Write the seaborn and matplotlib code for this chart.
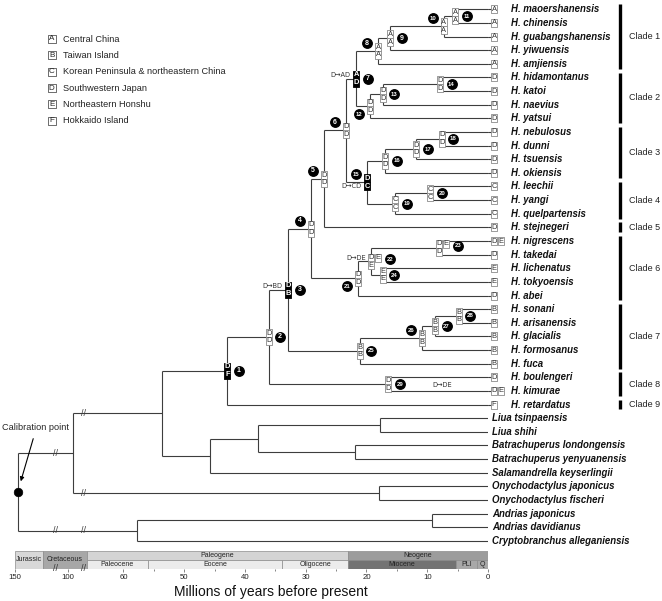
import matplotlib
matplotlib.use("Agg")
import matplotlib.pyplot as plt
import numpy as np
import seaborn as sns
from matplotlib.collections import LineCollection
from matplotlib.path import Path
from matplotlib.transforms import Affine2D, ScaledTranslation

# ---------------- data ----------------
leaf_names = [
    "H. maoershanensis", "H. chinensis", "H. guabangshanensis", "H. yiwuensis", "H. amjiensis",
    "H. hidamontanus", "H. katoi", "H. naevius", "H. yatsui",
    "H. nebulosus", "H. dunni", "H. tsuensis", "H. okiensis",
    "H. leechii", "H. yangi", "H. quelpartensis",
    "H. stejnegeri",
    "H. nigrescens", "H. takedai", "H. lichenatus", "H. tokyoensis", "H. abei",
    "H. sonani", "H. arisanensis", "H. glacialis", "H. formosanus", "H. fuca",
    "H. boulengeri", "H. kimurae",
    "H. retardatus",
    "Liua tsinpaensis", "Liua shihi",
    "Batrachuperus londongensis", "Batrachuperus yenyuanensis",
    "Salamandrella keyserlingii",
    "Onychodactylus japonicus", "Onychodactylus fischeri",
    "Andrias japonicus", "Andrias davidianus",
    "Cryptobranchus alleganiensis",
]
leaf_areas = [
    "A", "A", "A", "A", "A",
    "D", "D", "D", "D",
    "D", "D", "D", "D",
    "C", "C", "C",
    "D",
    "DE", "D", "E", "E", "D",
    "B", "B", "B", "B", "B",
    "D", "DE",
    "F",
    "", "", "", "", "", "", "", "", "", "",
]

# internal nodes, children listed before parents (ages in Mya)
node_ids = ["11", "10", "9", "8", "14", "13", "12", "7",
            "18", "17", "16", "20", "19", "15", "6", "5",
            "23", "24", "22", "21", "4",
            "28", "27", "26", "25", "3", "29", "2", "1",
            "liua", "batr", "lb", "sal", "hyn", "ony", "x", "andr", "ac", "root"]
node_ages = [5.4, 7.3, 16.1, 18.1, 7.9, 17.3, 19.4, 21.7,
             7.6, 11.8, 16.9, 9.5, 15.3, 19.9, 23.4, 27.0,
             8.1, 17.3, 19.2, 21.4, 29.1,
             4.8, 8.7, 10.9, 21.1, 32.9, 16.4, 36.1, 42.9,
             17.8, 21.9, 37.8, 45.7, 53.6, 17.9, 91.0, 9.2, 57.7, 149.5]
node_child_a = ["H. maoershanensis", "11", "10", "9", "H. hidamontanus", "14", "13", "8",
                "H. nebulosus", "18", "17", "H. leechii", "20", "16", "7", "6",
                "H. nigrescens", "H. lichenatus", "23", "22", "5",
                "H. sonani", "28", "27", "26", "4", "H. boulengeri", "3", "2",
                "Liua tsinpaensis", "Batrachuperus londongensis", "liua", "lb", "1",
                "Onychodactylus japonicus", "hyn", "Andrias japonicus", "andr", "x"]
node_child_b = ["H. chinensis", "H. guabangshanensis", "H. yiwuensis", "H. amjiensis", "H. katoi",
                "H. naevius", "H. yatsui", "12",
                "H. dunni", "H. tsuensis", "H. okiensis", "H. yangi", "H. quelpartensis", "19", "15",
                "H. stejnegeri",
                "H. takedai", "H. tokyoensis", "24", "H. abei", "21",
                "H. arisanensis", "H. glacialis", "H. formosanus", "H. fuca", "25", "H. kimurae", "29",
                "H. retardatus",
                "Liua shihi", "Batrachuperus yenyuanensis", "batr", "Salamandrella keyserlingii",
                "sal", "Onychodactylus fischeri", "ony", "Andrias davidianus",
                "Cryptobranchus alleganiensis", "ac"]

# ancestral areas at numbered nodes 1..29 (upper / lower box)
numbered = list(range(1, 30))
area_upper = ["D", "D", "D", "D", "D", "D", "A", "A", "A", "A", "A", "D", "D", "D", "D",
              "D", "D", "D", "C", "C", "D", "DE", "DE", "E", "B", "B", "B", "B", "D"]
area_lower = ["F", "D", "B", "D", "D", "D", "D", "A", "A", "A", "A", "D", "D", "D", "C",
              "D", "D", "D", "C", "C", "D", "E", "D", "E", "B", "B", "B", "B", "D"]
black_nodes = [1, 3, 7, 15]
label_left_up = [4, 5, 6, 8, 10, 15, 26]
label_left_down = [12, 21]
label_far_right = [22, 23]

event_nodes = ["3", "7", "15", "22"]
event_text = ["D\u2192BD", "D\u2192AD", "D\u2192CD", "D\u2192DE"]
event_box = ["upper", "upper", "lower", "upper"]

clade_labels = ["Clade 1", "Clade 2", "Clade 3", "Clade 4", "Clade 5",
                "Clade 6", "Clade 7", "Clade 8", "Clade 9"]
clade_first = ["H. maoershanensis", "H. hidamontanus", "H. nebulosus", "H. leechii",
               "H. stejnegeri", "H. nigrescens", "H. sonani", "H. boulengeri", "H. retardatus"]
clade_last = ["H. amjiensis", "H. yatsui", "H. okiensis", "H. quelpartensis",
              "H. stejnegeri", "H. abei", "H. fuca", "H. kimurae", "H. retardatus"]

area_codes = ["A", "B", "C", "D", "E", "F"]
area_names = ["Central China", "Taiwan Island", "Korean Peninsula & northeastern China",
              "Southwestern Japan", "Northeastern Honshu", "Hokkaido Island"]

full_units = ["Jurassic", "Cretaceous"]
full_start = [150, 145]
full_end = [145, 66]
full_color = ["#d8d8d8", "#a7a7a7"]
period_units = ["Paleogene", "Neogene"]
period_start = [66, 23]
period_end = [23, 0]
period_color = ["#d4d4d4", "#9c9c9c"]
epoch_units = ["Paleocene", "Eocene", "Oligocene", "Miocene", "PLI", "Q"]
epoch_start = [66, 56, 33.9, 23, 5.3, 1.8]
epoch_end = [56, 33.9, 23, 5.3, 1.8, 0]
epoch_color = ["#ececec", "#ececec", "#ececec", "#737373", "#a8a8a8", "#a8a8a8"]

major_ticks = [150, 100, 60, 50, 40, 30, 20, 10, 0]
minor_ticks = [55, 45, 35, 25, 15, 5]

# broken time axis: age -> pixel distance from present
AGE_KNOTS = [0, 66, 100, 145, 150]
DIST_KNOTS = [0, 401, 420, 445, 473]


def fwd(a):
    return np.interp(a, AGE_KNOTS, DIST_KNOTS)


def inv(d):
    return np.interp(d, DIST_KNOTS, AGE_KNOTS)


# ---------------- figure ----------------
DPI = 100
W, H = 662, 601
sns.set_theme(style="white")
plt.rcParams["font.family"] = ["Liberation Sans", "DejaVu Sans"]
LINE = "#3d3d3d"

fig = plt.figure(figsize=(W / DPI, H / DPI), dpi=DPI)
LEAF_PX, FIRST_PX, AX_BOTTOM = 13.63, 9.3, 549
ax = fig.add_axes([15 / W, (H - AX_BOTTOM) / H, 473 / W, AX_BOTTOM / H])
ax.set_autoscale_on(False)
ax.set_xscale("function", functions=(fwd, inv))
ax.set_xlim(150, 0)
ax.set_ylim((AX_BOTTOM - FIRST_PX) / LEAF_PX, -FIRST_PX / LEAF_PX)
ax.axis("off")

fig_px = Affine2D().scale(1 / W, -1 / H).translate(0, 1) + fig.transFigure


def off(dx, dy):
    return ax.transData + ScaledTranslation(dx / DPI, -dy / DPI, fig.dpi_scale_trans)


def local(age, y):
    return Affine2D().scale(1 / DPI, -1 / DPI) + fig.dpi_scale_trans + ScaledTranslation(age, y, ax.transData)


BOX = Path([(-0.43, -0.5), (0.43, -0.5), (0.43, 0.5), (-0.43, 0.5), (-0.43, -0.5)], closed=True)


def area_box(age, y, letters, dx, dy, black=False, fs=5.4):
    for k, ch in enumerate(letters):
        t = off(dx + 7 * k, dy)
        ax.plot([age], [y], marker=BOX, ms=5.6, mfc="black" if black else "white",
                mec="black" if black else "#8a8a8a", mew=0.6, transform=t,
                clip_on=False, zorder=4)
        ax.text(age, y, ch, transform=t, ha="center", va="center", fontsize=fs,
                color="white" if black else "#333333",
                fontweight="bold" if black else "normal", zorder=5, clip_on=False)


# node coordinates: y is the mean of its two children
y_of = {n: float(i) for i, n in enumerate(leaf_names)}
age_of = {n: 0.0 for n in leaf_names}
for nid, age, ca, cb in zip(node_ids, node_ages, node_child_a, node_child_b):
    y_of[nid] = (y_of[ca] + y_of[cb]) / 2
    age_of[nid] = age

segs = []
for nid, ca, cb in zip(node_ids, node_child_a, node_child_b):
    a = age_of[nid]
    segs.append([(a, y_of[ca]), (a, y_of[cb])])
    for c in (ca, cb):
        segs.append([(a, y_of[c]), (age_of[c], y_of[c])])
ax.add_collection(LineCollection(segs, colors=LINE, linewidths=0.8, zorder=2))

# tips
for name, area in zip(leaf_names, leaf_areas):
    y = y_of[name]
    if area:
        ax.plot([0, 3], [0, 0], color=LINE, lw=0.8, transform=local(0, y), clip_on=False, zorder=2)
        area_box(0, y, area, 6, 0, fs=5.4)
        ax.text(0, y, name, transform=off(23, 0), ha="left", va="center", fontsize=6.9,
                fontweight="bold", fontstyle="italic", color="#111111")
    else:
        ax.text(0, y, name, transform=off(4, 0), ha="left", va="center", fontsize=6.9,
                fontweight="bold", fontstyle="italic", color="#111111")

# numbered nodes: area boxes and number circles
for num, up, lo in zip(numbered, area_upper, area_lower):
    nid = str(num)
    a, y = age_of[nid], y_of[nid]
    blk = num in black_nodes
    area_box(a, y, up, 0, -3.9, black=blk)
    area_box(a, y, lo, 0, 3.9, black=blk)
    if num in label_left_up:
        dx, dy = -11, -8
    elif num in label_left_down:
        dx, dy = -11, 8
    elif num in label_far_right:
        dx, dy = 19, -2
    else:
        dx, dy = 11.5, 0
    ax.plot([a], [y], marker="o", ms=6.8, mfc="black", mec="black", transform=off(dx, dy),
            zorder=6, clip_on=False)
    ax.text(a, y, nid, transform=off(dx, dy), ha="center", va="center",
            fontsize=5.0 if num < 10 else 4.3, color="white", fontweight="bold", zorder=7)

for nid, txt, which in zip(event_nodes, event_text, event_box):
    ax.text(age_of[nid], y_of[nid], txt, transform=off(-5.5, -3.9 if which == "upper" else 3.9),
            ha="right", va="center", fontsize=4.8, color="#333333", family="DejaVu Sans")
ax.text(7.6, y_of["H. kimurae"], "D\u2192DE", transform=off(0, -5.5), ha="center", va="center",
        fontsize=4.8, color="#333333", family="DejaVu Sans")

# axis-break marks on long branches
for brk_age, nid in [(123, "x"), (73, "hyn"), (73, "ony"), (123, "ac"), (73, "ac")]:
    ax.text(brk_age, y_of[nid], "//", ha="center", va="center", fontsize=6.5, color=LINE, zorder=3)

# calibration point
sns.scatterplot(x=[age_of["root"]], y=[y_of["root"]], ax=ax, color="black", s=38,
                zorder=6, legend=False, clip_on=False, edgecolor="black")
ax.annotate("", xy=(20, 484), xycoords=fig_px, xytext=(34, 436), textcoords=fig_px,
            arrowprops=dict(arrowstyle="-|>", color="black", lw=0.8, mutation_scale=6))
fig.text(36, 428, "Calibration point", transform=fig_px, ha="center", va="center", fontsize=6.6)

# clade bars
for lab, first, last in zip(clade_labels, clade_first, clade_last):
    y0, y1 = y_of[first] - 0.36, y_of[last] + 0.36
    ax.plot([0, 0], [y0, y1], color="black", lw=2.4, solid_capstyle="butt",
            transform=off(132, 0), clip_on=False)
    ax.text(0, (y0 + y1) / 2, lab, transform=off(141, 0), ha="left", va="center", fontsize=6.5,
            color="#222222")

# area legend
for k, (code, nm) in enumerate(zip(area_codes, area_names)):
    ly = 39 + 16.35 * k
    ax.plot([51.5], [ly], marker=BOX, ms=6.0, mfc="white", mec="#555555", mew=0.6,
            transform=fig_px, clip_on=False)
    ax.text(51.5, ly, code, transform=fig_px, ha="center", va="center", fontsize=5.8, color="#222222")
    ax.text(63, ly, nm, transform=fig_px, ha="left", va="center", fontsize=6.6, color="#222222")

# ---------------- geological time scale ----------------
ts = fig.add_axes([15 / W, (H - 569) / H, 473 / W, 18 / H])
ts.set_xscale("function", functions=(fwd, inv))
ts.set_xlim(150, 0)
ts.set_ylim(0, 1)


def mid(a, b):
    return float(inv((fwd(a) + fwd(b)) / 2))


for nm, a, b, c in zip(full_units, full_start, full_end, full_color):
    ts.axvspan(a, b, 0, 1, facecolor=c, edgecolor="#8c8c8c", lw=0.5)
    ts.text(mid(a, b), 0.55, nm, ha="center", va="center", fontsize=5.0, color="#222222")
for nm, a, b, c in zip(period_units, period_start, period_end, period_color):
    ts.axvspan(a, b, 0.5, 1, facecolor=c, edgecolor="#8c8c8c", lw=0.5)
    ts.text(mid(a, b), 0.75, nm, ha="center", va="center", fontsize=5.0, color="#222222")
for nm, a, b, c in zip(epoch_units, epoch_start, epoch_end, epoch_color):
    ts.axvspan(a, b, 0, 0.5, facecolor=c, edgecolor="#8c8c8c", lw=0.5)
    ts.text(mid(a, b), 0.25, nm, ha="center", va="center", fontsize=5.0, color="#222222")
for brk_age in (123, 73):
    ts.text(brk_age, 0.05, "//", ha="center", va="center", fontsize=6.5, color="#333333",
            clip_on=False, zorder=5)

for s in ts.spines.values():
    s.set_visible(False)
ts.set_yticks([])
ts.set_xticks(major_ticks)
ts.set_xticklabels([str(t) for t in major_ticks])
ts.set_xticks(minor_ticks, minor=True)
ts.tick_params(axis="x", which="both", bottom=True, direction="out", length=2.2, width=0.5,
               color="#555555", labelsize=5.6, pad=1.5, labelcolor="#222222")
ts.tick_params(axis="x", which="minor", length=1.5)

fig.text(271, 592, "Millions of years before present", transform=fig_px, ha="center", va="center",
         fontsize=10, color="#111111")

fig.savefig("out.png", dpi=DPI, facecolor="white")
